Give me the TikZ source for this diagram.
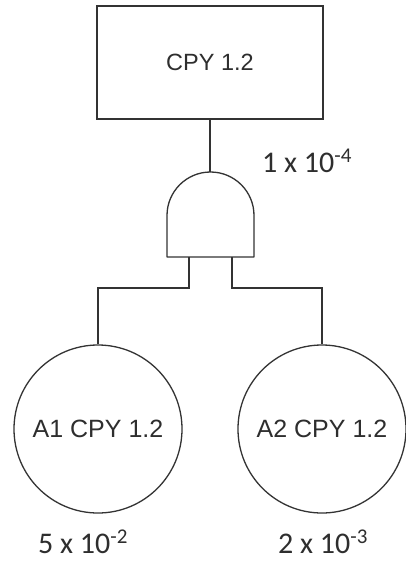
\documentclass[tikz,border=0pt]{standalone}
\usepackage{fontspec}
\setmainfont{Liberation Sans}
\newfontfamily\numfont{Carlito}
\definecolor{linec}{HTML}{333333}
\definecolor{textc}{HTML}{2E2E2E}
\begin{document}
\begin{tikzpicture}[x=1pt,y=-1pt]
\tikzset{
  box/.style={draw=linec, line width=1.6pt, minimum width=226pt, minimum height=113pt, inner sep=0pt, text=textc, font=\fontsize{23.5}{28}\selectfont},
  event/.style={circle, draw=linec, line width=1.3pt, minimum size=168pt, inner sep=0pt, text=textc, font=\fontsize{25}{30}\selectfont},
  prob/.style={anchor=base west, inner sep=0pt, text=textc, font=\numfont\fontsize{30}{34}\selectfont},
  wire/.style={draw=linec, line width=1.3pt}
}
\useasboundingbox (0,0) rectangle (405,563);
\fill[white] (0,0) rectangle (405,563);
\node[box] (top) at (210,62.5) {CPY 1.2};
\node[event] (a1) at (98,429) {A1 CPY 1.2};
\node[event] (a2) at (322,429) {A2 CPY 1.2};
% AND gate
\draw[wire, line join=round] (167,257) -- (167,215.5) arc[start angle=180, end angle=360, radius=43.5] -- (254,257) -- cycle;
\coordinate (gtop) at (210.5,172);
\coordinate (gin1) at (189,257);
\coordinate (gin2) at (232,257);
\draw[wire] (top.south) -- (top.south |- gtop);
\draw[wire] (gin1) -- ++(0,31) -| (a1.north);
\draw[wire] (gin2) -- ++(0,31) -| (a2.north);
\node[prob] (p0) at (262,172) {1 x 10\textsuperscript{-4}};
\node[prob] (p1) at (38,553) {5 x 10\textsuperscript{-2}};
\node[prob] (p2) at (278,553) {2 x 10\textsuperscript{-3}};
\end{tikzpicture}
\end{document}
